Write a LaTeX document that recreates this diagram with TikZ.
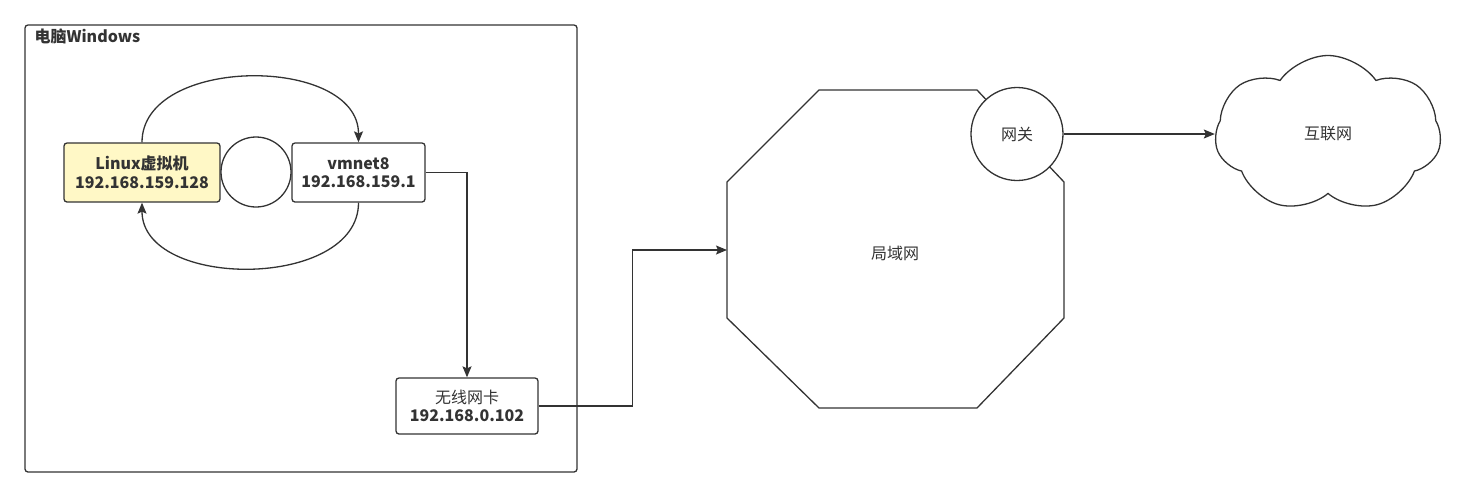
\documentclass[tikz,border=0pt]{standalone}
\usepackage{fontspec}
\setmainfont{Noto Sans CJK SC}
\usetikzlibrary{arrows.meta,shapes.geometric,shapes.symbols}
\definecolor{linuxfill}{HTML}{FFF8C6}
\definecolor{inkgray}{HTML}{333333}

\begin{document}
\begin{tikzpicture}[x=1pt, y=-1pt, line width=1.3pt, color=inkgray,
  font=\fontsize{16}{18.5}\selectfont,
  box/.style={draw, rounded corners=3pt, align=center, inner sep=0pt,
    font=\fontsize{16}{18.5}\selectfont\bfseries},
  link/.style={-{Stealth[length=11pt, width=9pt, inset=2pt]}}]
  \useasboundingbox (0,0) rectangle (1470,499);

  % 电脑外框
  \draw[rounded corners=3pt] (25,25) rectangle (577,472);
  \node[anchor=north west, inner sep=0pt, font=\fontsize{16}{18.5}\selectfont\bfseries] (pc) at (34,28) {电脑Windows};

  \node[box, fill=linuxfill, minimum width=156, minimum height=59] (linux) at (142,172.5) {Linux虚拟机\\192.168.159.128};
  \node[draw, circle, minimum size=70, inner sep=0pt] (sw) at (256,172) {};
  \node[box, minimum width=133, minimum height=59] (vmnet) at (358.5,172.5) {vmnet8\\192.168.159.1};
  \node[box, minimum width=142, minimum height=56] (wifi) at (467,406) {{\mdseries 无线网卡}\\192.168.0.102};

  % 局域网 八边形
  \draw (819,90) -- (977,90) -- (1064,182) -- (1064,318) -- (977,408)
    -- (819,408) -- (727,318) -- (727,182) -- cycle;
  \coordinate (lanW) at (727,250);
  \node (lan) at (895,253) {局域网};

  \node[draw, ellipse, fill=white, minimum width=92, minimum height=93, inner sep=0pt] (gw) at (1017,134) {网关};
  \node[draw, cloud, cloud puffs=7, cloud puff arc=110, aspect=1.45,
    minimum width=226, minimum height=157] (net) at (1328,134) {互联网};

  \draw[link] (linux.north) .. controls (142,55) and (358.5,55) .. (vmnet.north);
  \draw[link] (vmnet.south) .. controls (358.5,290) and (142,290) .. (linux.south);
  \draw[link] (vmnet.east) -| (wifi.north);
  \draw[link] (wifi.east) -- ++(94,0) |- (lanW);
  \draw[link] (gw.east) -- (net.west);
\end{tikzpicture}
\end{document}
